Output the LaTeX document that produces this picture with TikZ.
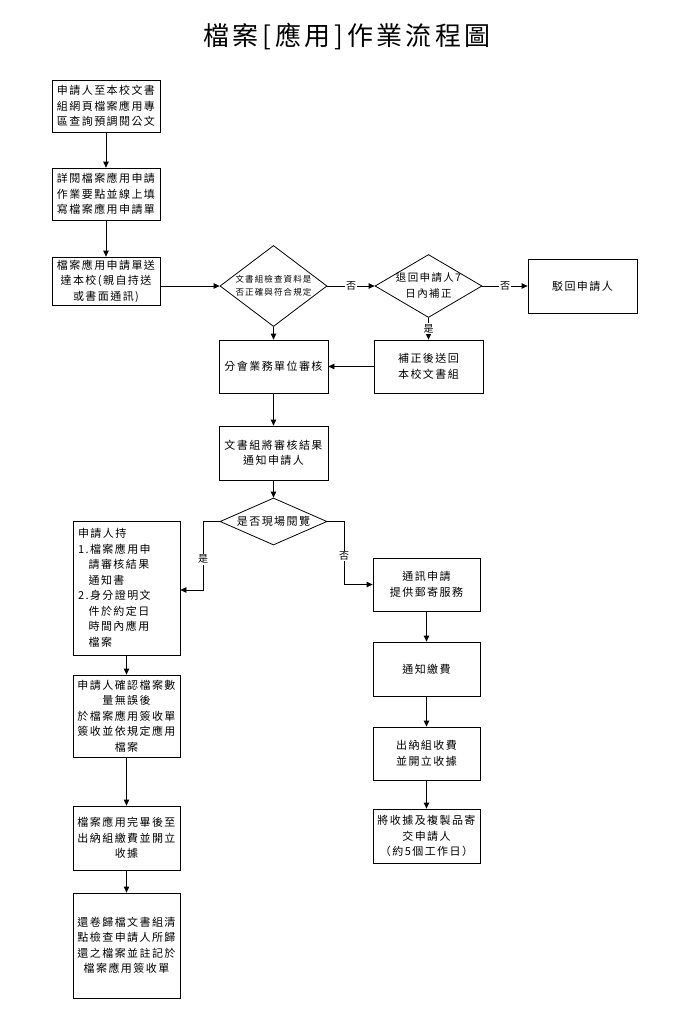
\documentclass[tikz,border=0pt]{standalone}
\usepackage{fontspec}
\newfontfamily\cjk[LetterSpace=13]{Noto Sans CJK TC}
\newfontfamily\cjkT[LetterSpace=12]{Noto Sans CJK TC}
\usetikzlibrary{shapes.geometric,arrows.meta}
\begin{document}
\begin{tikzpicture}[x=1pt,y=-1pt,
  box/.style={draw, line width=0.8pt, align=center, inner sep=0pt, minimum width=108pt, font=\cjk\fontsize{11}{15.5}\selectfont},
  dia/.style={draw, diamond, line width=0.8pt, inner sep=0pt, aspect=1},
  dtxt/.style={align=center, inner sep=0pt, font=\cjk\fontsize{11}{15.5}\selectfont},
  lbl/.style={fill=white, inner sep=1pt, font=\cjk\fontsize{10}{12}\selectfont},
  arr/.style={line width=0.8pt, -{Triangle[length=6pt,width=5.5pt]}},
  ln/.style={line width=0.8pt}]
\useasboundingbox (0,0) rectangle (694,1018);

\node[font=\cjkT\fontsize{26}{30}\selectfont] (title) at (347,37) {檔案\hspace{4pt}[\hspace{4pt}應用\hspace{4pt}]\hspace{4pt}作業流程圖};

% left top column
\node[box, minimum height=52pt] (b1) at (106,106) {申請人至本校文書\\組網頁檔案應用專\\區查詢預調閱公文};
\node[box, minimum height=52pt] (b2) at (106,194) {詳閱檔案應用申請\\作業要點並線上填\\寫檔案應用申請單};
\node[box, minimum height=48pt] (b3) at (106,281) {檔案應用申請單送\\達本校(親自持送\\或書面通訊)};

% decision 1
\node[dia, minimum width=107pt, minimum height=81pt] (d1) at (273.5,286) {};
\node[dtxt, font=\cjk\fontsize{8.5}{13}\selectfont] (d1t) at (d1) {文書組檢查資料是\\否正確與符合規定};

% decision 2
\node[dia, minimum width=107pt, minimum height=63pt] (d2) at (428.5,286) {};
\node[dtxt, font=\cjk\fontsize{10.5}{16}\selectfont] (d2t) at (d2) {退回申請人7\\日內補正};

\node[box, minimum width=109pt, minimum height=54pt] (r1) at (582.5,286) {駁回申請人};
\node[box, minimum width=109pt, minimum height=53pt] (fix) at (428.5,366.5) {補正後送回\\本校文書組};
\node[box, minimum width=109pt, minimum height=53pt] (s1) at (273.5,366.5) {分會業務單位審核};
\node[box, minimum width=109pt, minimum height=54pt] (n1) at (273.5,453) {文書組將審核結果\\通知申請人};

% decision 3
\node[dia, minimum width=107pt, minimum height=47pt] (d3) at (273.5,521.5) {};
\node[dtxt] (d3t) at (d3) {是否現場閱覽};

% left bottom column
\node[box, minimum width=107pt, minimum height=134pt, align=left, text width=97pt] (a1) at (126.5,588)
  {申請人持\\1.檔案應用申\\\hphantom{1.}請審核結果\\\hphantom{1.}通知書\\2.身分證明文\\\hphantom{2.}件於約定日\\\hphantom{2.}時間內應用\\\hphantom{2.}檔案};
\node[box, minimum width=107pt, minimum height=82pt] (a2) at (126.5,716) {申請人確認檔案數\\量無誤後\\於檔案應用簽收單\\簽收並依規定應用\\檔案};
\node[box, minimum width=107pt, minimum height=64pt] (a3) at (126.5,838) {檔案應用完畢後至\\出納組繳費並開立\\收據};
\node[box, minimum width=107pt, minimum height=105pt] (a4) at (126.5,945.5) {還卷歸檔文書組清\\點檢查申請人所歸\\還之檔案並註記於\\檔案應用簽收單};

% right bottom column
\node[box, minimum width=107pt, minimum height=53pt] (m1) at (426.5,584.5) {通訊申請\\提供郵寄服務};
\node[box, minimum width=107pt, minimum height=54pt] (m2) at (426.5,669) {通知繳費};
\node[box, minimum width=107pt, minimum height=53pt] (m3) at (426.5,753.5) {出納組收費\\並開立收據};
\node[box, minimum width=107pt, minimum height=54pt] (m4) at (426.5,836) {將收據及複製品寄\\交申請人\\（約5個工作日）};

\coordinate (lc1) at (203,521.5);
\coordinate (lc2) at (203,590);
\coordinate (rc1) at (344,521.5);
\coordinate (rc2) at (344,584.5);

% connectors
\draw[arr] (b1) -- (b2);
\draw[arr] (b2) -- (b3);
\draw[arr] (d1.west -| b3.east) -- (d1.west);
\draw[arr] (d1.east) -- node[lbl] {否} (d2.west);
\draw[arr] (d2.east) -- node[lbl] {否} (r1.west);
\draw[arr] (d2.south) -- node[lbl] {是} (fix.north);
\draw[arr] (d1.south) -- (s1.north);
\draw[arr] (fix.west) -- (s1.east);
\draw[arr] (s1) -- (n1);
\draw[arr] (n1.south) -- (d3.north);
\draw[arr] (d3.west) -- (lc1) -- node[lbl, pos=0.55] {是} (lc2) -- (lc2 -| a1.east);
\draw[arr] (d3.east) -- (rc1) -- node[lbl, pos=0.55] {否} (rc2) -- (m1.west);
\draw[arr] (a1) -- (a2);
\draw[arr] (a2) -- (a3);
\draw[arr] (a3) -- (a4);
\draw[arr] (m1) -- (m2);
\draw[arr] (m2) -- (m3);
\draw[arr] (m3) -- (m4);
\end{tikzpicture}
\end{document}
